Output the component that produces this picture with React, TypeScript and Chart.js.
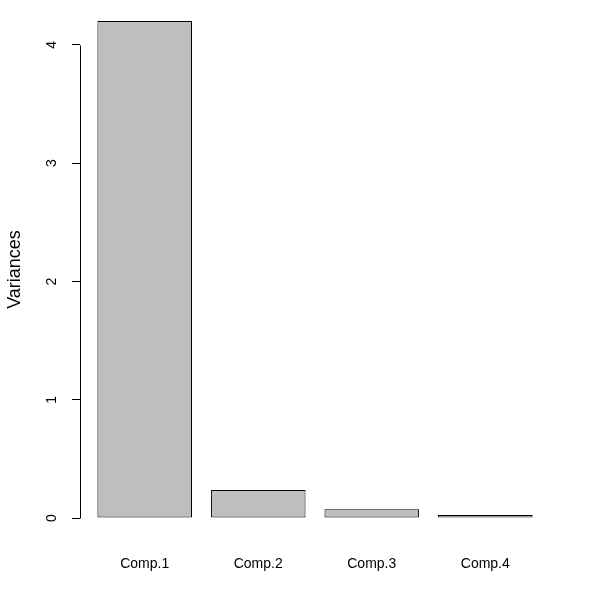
import React, { useRef, useEffect } from 'react';
import { Chart, registerables, ChartConfiguration, Plugin } from 'chart.js';

Chart.register(...registerables);

// screeplot of the principal components
const components = ['Comp.1', 'Comp.2', 'Comp.3', 'Comp.4'];
const variances = [4.203, 0.238, 0.075, 0.027];
const yTicks = [0, 1, 2, 3, 4];

// barplot geometry the way R lays it out: width 1, space 0.2
const BAR_WIDTH = 1;
const SPACE = 0.2;
const barCenters = components.map((_, i) => SPACE + BAR_WIDTH / 2 + i * (BAR_WIDTH + SPACE));
const xMin = SPACE;
const xMax = components.length * (BAR_WIDTH + SPACE);
const xPad = (xMax - xMin) * 0.04;
const yMax = Math.max(...variances);
const yPad = yMax * 0.04;

const FONT = '"Liberation Sans", Arial, sans-serif';

// R draws the axis line only between the first and last tick
const axisLine: Plugin = {
  id: 'axisLine',
  afterDraw(chart) {
    const y = chart.scales.y;
    const ctx = chart.ctx;
    const x = Math.round(chart.chartArea.left) + 0.5;
    ctx.save();
    ctx.strokeStyle = '#000';
    ctx.lineWidth = 1;
    ctx.beginPath();
    ctx.moveTo(x, Math.round(y.getPixelForValue(yTicks[0])) + 0.5);
    ctx.lineTo(x, Math.round(y.getPixelForValue(yTicks[yTicks.length - 1])) + 0.5);
    ctx.stroke();
    ctx.restore();
  },
};

const ScreePlot: React.FC = () => {
  const chartRef = useRef<HTMLCanvasElement>(null);
  const chartInstance = useRef<Chart | null>(null);

  useEffect(() => {
    document.body.style.margin = '0';
    if (!chartRef.current) return;
    if (chartInstance.current) chartInstance.current.destroy();
    const ctx = chartRef.current.getContext('2d');
    if (!ctx) return;

    const config: ChartConfiguration = {
      type: 'bar',
      data: {
        datasets: [
          {
            label: 'Variances',
            data: variances.map((v, i) => ({ x: barCenters[i], y: v })),
            backgroundColor: '#bebebe',
            borderColor: '#000000',
            borderWidth: 1,
            borderSkipped: false,
            barPercentage: BAR_WIDTH / (BAR_WIDTH + SPACE),
            categoryPercentage: 1,
          },
        ],
      },
      options: {
        responsive: false,
        animation: false,
        layout: { padding: { top: 1, right: 41, left: 0, bottom: 0 } },
        plugins: {
          legend: { display: false },
          tooltip: { enabled: false },
        },
        scales: {
          x: {
            type: 'linear',
            offset: false,
            min: xMin - xPad,
            max: xMax + xPad,
            afterBuildTicks: (scale) => {
              scale.ticks = barCenters.map((v) => ({ value: v }));
            },
            afterFit: (scale) => {
              scale.height = 54;
              scale.paddingLeft = 0;
              scale.paddingRight = 0;
            },
            grid: { display: false, offset: false },
            border: { display: false },
            ticks: {
              color: '#000',
              font: { family: FONT, size: 14 },
              padding: 10,
              autoSkip: false,
              maxRotation: 0,
              callback: (_v, i) => components[i],
            },
          },
          y: {
            type: 'linear',
            min: -yPad,
            max: yMax + yPad,
            afterBuildTicks: (scale) => {
              scale.ticks = yTicks.map((v) => ({ value: v }));
            },
            afterFit: (scale) => {
              scale.width = 80;
              scale.paddingTop = 0;
              scale.paddingBottom = 0;
            },
            grid: {
              display: true,
              drawOnChartArea: false,
              drawTicks: true,
              tickLength: 8,
              tickColor: '#000',
              lineWidth: 1,
            },
            border: { display: false },
            ticks: {
              color: '#000',
              font: { family: FONT, size: 14 },
              minRotation: 90,
              maxRotation: 90,
              crossAlign: 'center',
              padding: 16,
              callback: (v) => String(v),
            },
            title: {
              display: true,
              text: 'Variances',
              color: '#000',
              font: { family: FONT, size: 18 },
              padding: { top: 4, bottom: 0 },
            },
          },
        },
      },
      plugins: [axisLine],
    };

    chartInstance.current = new Chart(ctx, config);

    return () => {
      if (chartInstance.current) {
        chartInstance.current.destroy();
        chartInstance.current = null;
      }
    };
  }, []);

  return (
    <div style={{ width: '591px', height: '592px', background: '#fff' }}>
      <canvas ref={chartRef} width={591} height={592} style={{ display: 'block' }} />
    </div>
  );
};

export default function App() {
  return <ScreePlot />;
}
